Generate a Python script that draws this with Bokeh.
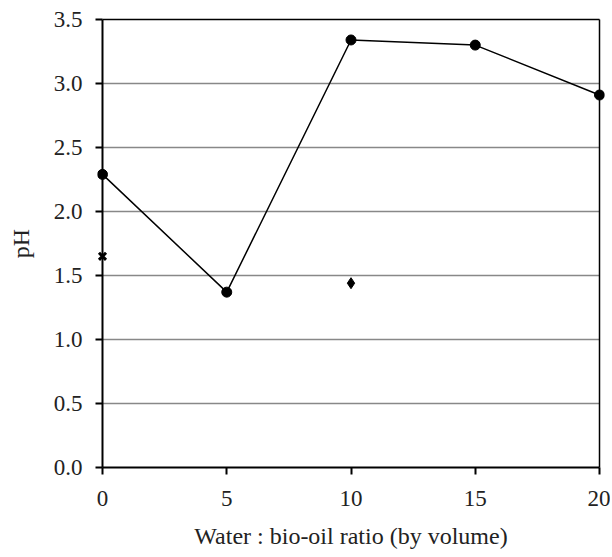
from bokeh.plotting import figure
from bokeh.models import Range1d, FixedTicker, CustomJSTickFormatter
from bokeh.embed import file_html
from bokeh.resources import INLINE

ratio = [0, 5, 10, 15, 20]
ph_values = [2.29, 1.37, 3.34, 3.30, 2.91]
cross_x = [0]
cross_y = [1.65]
diamond_x = [10]
diamond_y = [1.44]
y_ticks = [0.0, 0.5, 1.0, 1.5, 2.0, 2.5, 3.0, 3.5]
x_ticks = [0, 5, 10, 15, 20]

FONT = "Liberation Serif"
X_MIN, X_MAX = x_ticks[0], x_ticks[-1]
Y_MIN, Y_MAX = y_ticks[0], y_ticks[-1]

# small padding so markers on the box edges are not clipped
xpad = 0.201
ypad = 0.039

p = figure(width=610, height=557, output_backend="svg", toolbar_location=None,
           x_range=Range1d(X_MIN - xpad, X_MAX + xpad),
           y_range=Range1d(Y_MIN - ypad, Y_MAX + ypad),
           min_border_left=97, min_border_right=6, min_border_top=14, min_border_bottom=85)
p.outline_line_color = None
p.xgrid.grid_line_color = None
p.ygrid.grid_line_color = None

# horizontal gridlines limited to the data box
grid_vals = y_ticks[1:-1]
p.segment(x0=[X_MIN] * len(grid_vals), x1=[X_MAX] * len(grid_vals),
          y0=grid_vals, y1=grid_vals, line_color="#888888", line_width=1.5)

# box (axes + top/right border)
p.segment(x0=[X_MIN, X_MIN], x1=[X_MAX, X_MIN], y0=[Y_MIN, Y_MIN], y1=[Y_MIN, Y_MAX],
          line_color="black", line_width=2)
p.segment(x0=[X_MIN, X_MAX], x1=[X_MAX, X_MAX], y0=[Y_MAX, Y_MIN], y1=[Y_MAX, Y_MAX],
          line_color="black", line_width=1.5)

p.line(ratio, ph_values, line_color="black", line_width=1.5)
p.scatter(ratio, ph_values, marker="circle", size=10, fill_color="black", line_color="black")
p.scatter(cross_x, cross_y, marker="x", size=10, line_color="black", line_width=3)
p.scatter(diamond_x, diamond_y, marker="diamond", size=11, fill_color="black", line_color="black")

p.xaxis.ticker = FixedTicker(ticks=x_ticks)
p.yaxis.ticker = FixedTicker(ticks=y_ticks)
p.yaxis.formatter = CustomJSTickFormatter(code="return tick.toFixed(1);")

for ax in (p.xaxis, p.yaxis):
    ax.axis_line_color = None
    ax.major_tick_line_color = "black"
    ax.major_tick_line_width = 2
    ax.major_tick_in = 5
    ax.major_tick_out = 2
    ax.minor_tick_line_color = None
    ax.major_label_text_font = FONT
    ax.major_label_text_font_size = "23px"
    ax.major_label_text_color = "#222222"
    ax.axis_label_text_font = FONT
    ax.axis_label_text_font_size = "24px"
    ax.axis_label_text_font_style = "normal"
    ax.axis_label_text_color = "#222222"

p.xaxis.axis_label = "Water : bio-oil ratio (by volume)"
p.yaxis.axis_label = "pH"
p.xaxis.major_label_standoff = 16
p.yaxis.major_label_standoff = 13
p.xaxis.axis_label_standoff = 14
p.yaxis.axis_label_standoff = 17

open("out.html", "w").write(file_html(p, INLINE))
